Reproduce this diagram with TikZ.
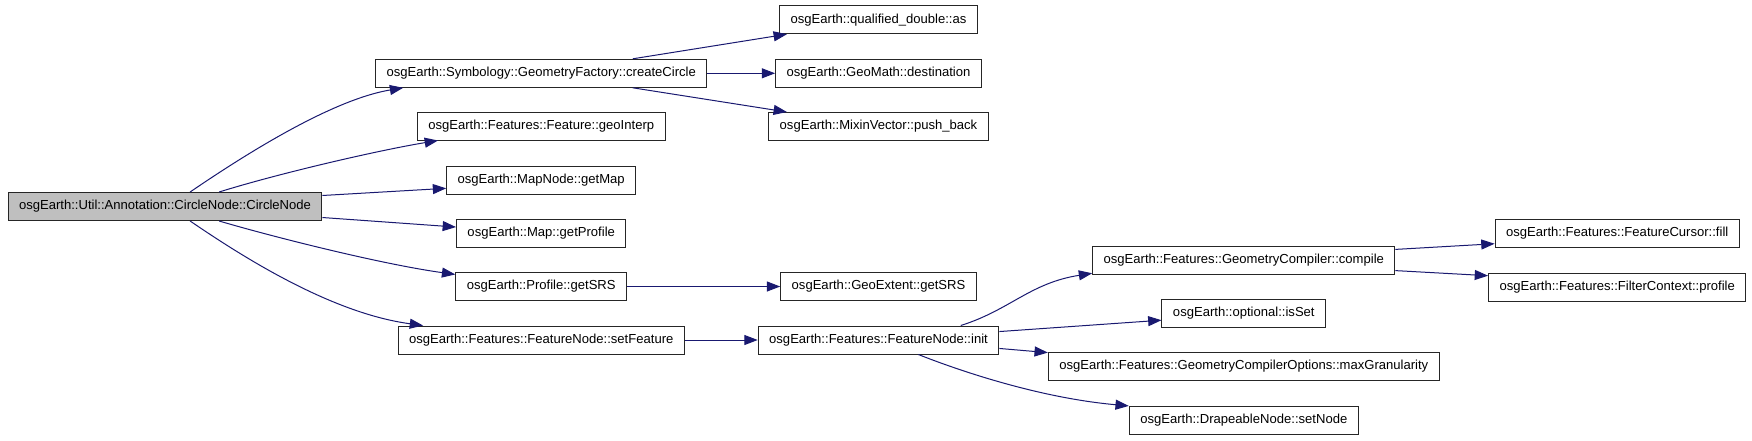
\documentclass[tikz,border=0pt]{standalone}
\usepackage{fontspec}
\setmainfont{Liberation Sans}
\usetikzlibrary{arrows.meta}
\definecolor{callblue}{RGB}{25,25,112}
\definecolor{rootgray}{RGB}{191,191,191}

\begin{document}
\begin{tikzpicture}[x=0.75pt,y=0.75pt,
 box/.style={draw=black!85,line width=0.75pt,minimum height=21pt,inner xsep=8.25pt,inner ysep=0pt,
  font=\fontsize{9.8}{11}\selectfont},
 callarrow/.style={draw=callblue,line width=0.75pt,-{Triangle[length=10pt,width=7.5pt]}}]
\useasboundingbox (0,0) rectangle (1752,-440);
% caller
\node[box,fill=rootgray] (circlenode) at (165,-206.5) {osgEarth::Util::Annotation::CircleNode::CircleNode};
% first level
\node[box] (createcircle) at (541.2,-73.3) {osgEarth::Symbology::GeometryFactory::createCircle};
\node[box] (geointerp) at (541.2,-126) {osgEarth::Features::Feature::geoInterp};
\node[box] (getmap) at (541.2,-180) {osgEarth::MapNode::getMap};
\node[box] (getprofile) at (541.2,-233) {osgEarth::Map::getProfile};
\node[box] (profilesrs) at (541.2,-286.5) {osgEarth::Profile::getSRS};
\node[box] (setfeature) at (541.2,-340) {osgEarth::Features::FeatureNode::setFeature};
% second level
\node[box] (asdouble) at (878.5,-19.7) {osgEarth::qualified\_double::as};
\node[box] (destination) at (878.5,-73.3) {osgEarth::GeoMath::destination};
\node[box] (pushback) at (878.5,-126.5) {osgEarth::MixinVector::push\_back};
\node[box] (extentsrs) at (878.5,-286.5) {osgEarth::GeoExtent::getSRS};
\node[box] (init) at (878.5,-340) {osgEarth::Features::FeatureNode::init};
% third level
\node[box] (compile) at (1243.8,-260) {osgEarth::Features::GeometryCompiler::compile};
\node[box] (isset) at (1243.8,-313) {osgEarth::optional::isSet};
\node[box] (maxgran) at (1243.8,-366.3) {osgEarth::Features::GeometryCompilerOptions::maxGranularity};
\node[box] (setnode) at (1243.8,-420) {osgEarth::DrapeableNode::setNode};
% fourth level
\node[box] (fill) at (1617.2,-233) {osgEarth::Features::FeatureCursor::fill};
\node[box] (ctxprofile) at (1617.2,-287) {osgEarth::Features::FilterContext::profile};

\draw[callarrow] (circlenode.30) .. controls (240,-158) and (330,-100) .. (createcircle.186);
\draw[callarrow] (circlenode.15) .. controls (280,-173) and (380,-150) .. (geointerp.188);
\draw[callarrow] (circlenode.4) -- (getmap.185);
\draw[callarrow] (circlenode.-4) -- (getprofile.176);
\draw[callarrow] (circlenode.-15) .. controls (270,-236) and (380,-264) .. (profilesrs.172);
\draw[callarrow] (circlenode.-30) .. controls (240,-255) and (330,-313) .. (setfeature.173);

\draw[callarrow] (createcircle.9) -- (asdouble.189);
\draw[callarrow] (createcircle) -- (destination);
\draw[callarrow] (createcircle.-9) -- (pushback.171);
\draw[callarrow] (profilesrs) -- (extentsrs);
\draw[callarrow] (setfeature) -- (init);

\draw[callarrow] (init.10) .. controls (1010,-310) and (1030,-283) .. (compile.185);
\draw[callarrow] (init.4) -- (isset.185);
\draw[callarrow] (init.-4) -- (maxgran.176);
\draw[callarrow] (init.-20) .. controls (960,-371) and (1040,-398) .. (setnode.173);

\draw[callarrow] (compile.4) -- (fill.185);
\draw[callarrow] (compile.-4) -- (ctxprofile.175);
\end{tikzpicture}
\end{document}
